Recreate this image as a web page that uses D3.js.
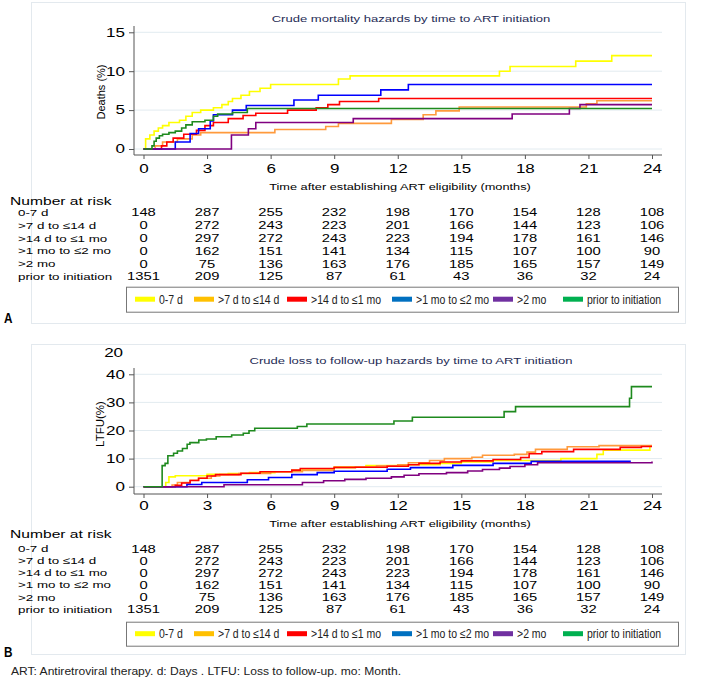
<!DOCTYPE html>
<html><head><meta charset="utf-8">
<script src="https://cdn.jsdelivr.net/npm/d3@7/dist/d3.min.js"></script>
<style>body{margin:0;background:#fff}svg{display:block}</style>
</head><body><svg id="c" width="704" height="679"></svg>
<script>
// ---------- data ----------
const groups = ["0-7 d", ">7 d to ≤14 d", ">14 d to ≤1 mo", ">1 mo to ≤2 mo", ">2 mo", "prior to initiation"];
const lineColors = ["#ffff00", "#ff9a3c", "#ff0000", "#0000ff", "#800080", "#1e8a1e"];
const legendColors = ["#ffff00", "#ffc000", "#ff0000", "#0070c0", "#7030a0", "#00b050"];
const riskTimes = [0, 3, 6, 9, 12, 15, 18, 21, 24];
const risk0to7 = [148, 287, 255, 232, 198, 170, 154, 128, 108];
const risk7to14 = [0, 272, 243, 223, 201, 166, 144, 123, 106];
const risk14to1m = [0, 297, 272, 243, 223, 194, 178, 161, 146];
const risk1to2m = [0, 162, 151, 141, 134, 115, 107, 100, 90];
const riskOver2m = [0, 75, 136, 163, 176, 185, 165, 157, 149];
const riskPrior = [1351, 209, 125, 87, 61, 43, 36, 32, 24];
const mortTicks = [0, 5, 10, 15];
const ltfuTicks = [0, 10, 20, 30, 40];

// mortality (%), [month, value] step points
const mort0to7 = [[0,0],[0.1,1.3],[0.3,1.8],[0.5,2.3],[0.7,2.7],[0.9,3.0],[1.2,3.4],[1.7,3.7],[2.0,4.2],[2.3,4.7],[2.7,5.0],[3.3,5.3],[3.7,5.7],[4.0,6.1],[4.2,6.5],[4.6,6.9],[5.0,7.4],[5.5,7.8],[6.0,8.3],[9.2,9.0],[9.75,9.4],[16.8,10.0],[17.3,10.6],[20.4,11.3],[22.1,12.0],[24,12.0]];
const mort7to14 = [[0,0],[0.55,0.4],[0.9,0.9],[1.6,1.3],[2.3,1.8],[2.7,2.1],[6.2,2.5],[8.6,2.9],[9.2,3.3],[11.7,3.8],[13.2,4.4],[13.8,4.9],[14.9,5.4],[20.9,5.8],[21.4,6.2],[24,6.2]];
const mort14to1m = [[0,0],[0.85,0.4],[1.1,0.9],[1.4,1.4],[1.9,1.9],[2.5,2.4],[2.9,3.0],[3.3,3.4],[4.0,3.9],[4.7,4.3],[5.3,4.6],[6.8,5.0],[8.15,5.3],[8.7,5.7],[9.25,6.1],[11.1,6.5],[24,6.5]];
const mort1to2m = [[0,0],[1.5,0.9],[2.2,2.0],[2.6,2.6],[3.15,3.6],[3.3,4.4],[4.2,5.0],[4.85,5.6],[7.1,6.3],[8.25,6.9],[11.2,7.6],[12.5,8.3],[24,8.3]];
const mortOver2m = [[0,0],[4.15,1.8],[4.95,2.6],[5.3,3.4],[9.9,3.9],[17.4,4.5],[20.1,5.2],[20.6,5.7],[24,5.7]];
const mortPrior = [[0,0],[0.4,0.4],[0.5,1.0],[0.6,1.4],[0.75,1.7],[0.9,1.9],[1.2,2.1],[1.5,2.3],[1.8,2.7],[2.0,3.1],[2.3,3.5],[2.9,3.7],[3.3,4.2],[3.5,4.5],[4.2,4.7],[4.9,5.2],[24,5.2]];

// loss to follow-up (%)
const ltfu0to7 = [[0,0],[1.05,1.5],[1.2,3.5],[1.5,3.9],[3.0,4.4],[4.0,4.7],[5.0,5.0],[6.2,5.3],[7.0,5.8],[7.5,6.3],[9.0,7.0],[10.5,7.5],[12.5,7.8],[14.0,8.3],[15.0,8.8],[16.5,9.3],[19.7,10.0],[21.4,11.5],[21.7,13.0],[23.9,14.5],[24,14.5]];
const ltfu7to14 = [[0,0],[1.35,0.6],[1.6,1.5],[2.2,2.3],[2.6,3.0],[3.2,3.8],[3.6,4.3],[4.5,4.7],[6.0,5.3],[7.5,5.8],[9.0,6.7],[10.0,7.0],[11.0,7.4],[12.0,7.8],[12.5,8.5],[13.5,9.3],[14.2,10.0],[15.5,10.5],[16.0,11.2],[17.5,11.5],[18.1,12.3],[18.5,13.3],[20.0,14.2],[21.5,14.6],[24,14.6]];
const ltfu14to1m = [[0,0],[1.5,0.5],[1.8,1.3],[2.2,2.2],[2.6,3.0],[3.0,3.8],[3.4,4.3],[4.6,4.8],[5.5,5.3],[7.0,5.9],[7.4,6.5],[9.0,6.9],[11.5,7.3],[12.5,7.8],[13.0,8.3],[14.0,8.8],[15.0,9.2],[16.5,9.7],[17.8,10.4],[18.2,11.7],[18.8,12.5],[20.3,13.3],[22.5,14.0],[23.5,14.3],[24,14.3]];
const ltfu1to2m = [[0,0],[2.05,0.8],[2.75,1.5],[4.9,2.5],[5.9,3.3],[7.0,4.3],[8.2,5.0],[9.0,5.5],[11.5,6.2],[12.6,6.8],[14.6,7.6],[16.5,8.3],[18.3,9.0],[23.0,9.0]];
const ltfuOver2m = [[0,0],[3.8,0.7],[7.5,1.5],[8.5,2.1],[9.5,2.6],[10.5,3.0],[11.7,3.5],[12.3,4.1],[13.0,4.6],[14.3,5.0],[15.3,5.6],[16.0,6.1],[16.8,6.6],[17.3,7.2],[18.0,7.8],[18.6,8.5],[24,9.0]];
const ltfuPrior = [[0,0],[0.88,7.5],[1.02,8.3],[1.15,11.0],[1.42,11.9],[1.6,12.7],[1.84,13.6],[2.06,15.1],[2.19,15.7],[2.61,16.6],[2.97,17.0],[3.43,17.8],[4.16,18.4],[4.71,19.0],[4.98,19.9],[5.25,20.8],[7.26,21.4],[7.71,22.3],[11.82,23.4],[12.69,24.7],[17.02,26.7],[17.56,28.5],[22.94,31.5],[23.03,35.6],[24,35.6]];

// ---------- drawing ----------
const SX = 1.42;
const FONT = "'Liberation Sans', Arial, sans-serif";
const svg = d3.select("#c");
const x = d3.scaleLinear().domain([0, 24]).range([143.5, 652]);
const riskRows = [risk0to7, risk7to14, risk14to1m, risk1to2m, riskOver2m, riskPrior];

function stext(g, px, py, s, size, anchor, color) {
  return g.append("text")
    .attr("transform", `translate(${px},${py}) scale(${SX},1)`)
    .attr("text-anchor", anchor).attr("dy", "0.35em")
    .attr("font-family", FONT).attr("font-size", size)
    .attr("fill", color || "#000").text(s);
}
function ntext(g, px, py, s, size, color, weight) {
  return g.append("text")
    .attr("transform", `translate(${px},${py}) scale(0.84,1)`)
    .attr("dy", "0.35em").attr("font-family", FONT).attr("font-size", size)
    .attr("font-weight", weight || "normal")
    .attr("fill", color || "#222").text(s);
}

function panel(cfg) {
  const g = svg.append("g");
  g.append("rect").attr("x", 31.5).attr("y", cfg.frame[0] + 0.5)
    .attr("width", 654).attr("height", cfg.frame[1] - cfg.frame[0])
    .attr("fill", "none").attr("stroke", "#e3e9ee");
  const y = d3.scaleLinear().domain(cfg.yDomain).range(cfg.yRange);
  g.selectAll(".grid").data(cfg.yTicks).join("line")
    .attr("x1", 134).attr("x2", 662)
    .attr("y1", d => y(d)).attr("y2", d => y(d))
    .attr("stroke", "#e2ebf0").attr("stroke-width", 1);
  stext(g, 411, cfg.titleY, cfg.title, 9.2, "middle", "#1e2b55");
  const line = d3.line().x(d => x(d[0])).y(d => y(d[1])).curve(d3.curveStepAfter);
  cfg.series.forEach((s, i) => {
    g.append("path").attr("d", line(s)).attr("fill", "none")
      .attr("stroke", lineColors[i]).attr("stroke-width", 1.6);
  });
  const ya = g.append("g").attr("transform", "translate(134,0)")
    .call(d3.axisLeft(y).tickValues(cfg.yTicks).tickSize(5).tickPadding(1.3).tickSizeOuter(0));
  ya.select(".domain").attr("d", `M0,${cfg.axisTop}V${cfg.axisY}`).attr("stroke", "#555");
  ya.selectAll(".tick line").attr("stroke", "#555");
  ya.selectAll("text").attr("font-size", 12).attr("font-family", FONT).attr("fill", "#000")
    .attr("transform", `scale(${SX},1)`);
  const xa = g.append("g").attr("transform", `translate(0,${cfg.axisY})`)
    .call(d3.axisBottom(x).tickValues(riskTimes).tickSize(4).tickPadding(4).tickSizeOuter(0));
  xa.select(".domain").attr("d", "M134,0H662").attr("stroke", "#555");
  xa.selectAll(".tick line").attr("stroke", "#555");
  xa.selectAll("text").attr("font-size", 12).attr("font-family", FONT).attr("fill", "#000")
    .attr("y", 0).attr("dy", "0.35em")
    .attr("transform", `translate(0,${cfg.tickLabelY - cfg.axisY}) scale(${SX},1)`);
  g.append("text").attr("transform", `translate(${cfg.yLabelX},${cfg.yLabelY}) rotate(-90)`)
    .attr("text-anchor", "middle").attr("dy", "0.35em")
    .attr("font-family", FONT).attr("font-size", cfg.yLabelSize).text(cfg.yLabel);
  stext(g, 400, cfg.xTitleY, "Time after establishing ART eligibility (months)", 9, "middle");
  stext(g, 10, cfg.narY, "Number at risk", 11, "start");
  groups.forEach((gname, i) => {
    stext(g, 18, cfg.rowYs[i], gname, 9.4, "start");
    riskRows[i].forEach((v, j) => stext(g, x(riskTimes[j]), cfg.rowYs[i], String(v), 10.4, "middle"));
  });
  g.append("rect").attr("x", 126.5).attr("y", cfg.legend[0] + 0.5)
    .attr("width", 552).attr("height", cfg.legend[1] - cfg.legend[0])
    .attr("fill", "#fff").attr("stroke", "#777");
  const swX = [135, 194, 287, 392, 493, 563];
  const ly = (cfg.legend[0] + cfg.legend[1]) / 2;
  groups.forEach((gname, i) => {
    g.append("rect").attr("x", swX[i]).attr("y", ly - 2.5).attr("width", 20).attr("height", 5)
      .attr("fill", legendColors[i]);
    ntext(g, swX[i] + 24, ly, gname, 12.5);
  });
  ntext(g, 4, cfg.letterY, cfg.letter, 14, "#000", "bold");
  return g;
}

panel({
  frame: [2, 323], title: "Crude mortality hazards by time to ART initiation", titleY: 18.3,
  yDomain: [0, 15], yRange: [149, 32.3], yTicks: mortTicks, axisTop: 26, axisY: 155,
  tickLabelY: 168.3, yLabel: "Deaths (%)", yLabelX: 101, yLabelY: 92, yLabelSize: 11,
  xTitleY: 186.7, narY: 200.7, rowYs: [212.7, 225.7, 238.3, 251, 264, 276.7],
  legend: [286.7, 311.7], letter: "A", letterY: 318,
  series: [mort0to7, mort7to14, mort14to1m, mort1to2m, mortOver2m, mortPrior]
});
const pb = panel({
  frame: [344, 654], title: "Crude loss to follow-up hazards by time to ART initiation", titleY: 361,
  yDomain: [0, 40], yRange: [486.7, 374.3], yTicks: ltfuTicks, axisTop: 368, axisY: 494,
  tickLabelY: 505.7, yLabel: "LTFU(%)", yLabelX: 100, yLabelY: 424, yLabelSize: 11.5,
  xTitleY: 524, narY: 534, rowYs: [549, 561, 573, 585, 597.3, 609.3],
  legend: [621.7, 645.7], letter: "B", letterY: 652,
  series: [ltfu0to7, ltfu7to14, ltfu14to1m, ltfu1to2m, ltfuOver2m, ltfuPrior]
});
stext(pb, 113.6, 353, "20", 12, "middle");

svg.append("text").attr("x", 11).attr("y", 671).attr("dy", "0.35em")
  .attr("font-family", FONT).attr("font-size", 11.5).attr("fill", "#222")
  .attr("textLength", 390).attr("lengthAdjust", "spacingAndGlyphs")
  .text("ART: Antiretroviral therapy. d: Days . LTFU: Loss to follow-up. mo: Month.");
</script>
</body></html>
